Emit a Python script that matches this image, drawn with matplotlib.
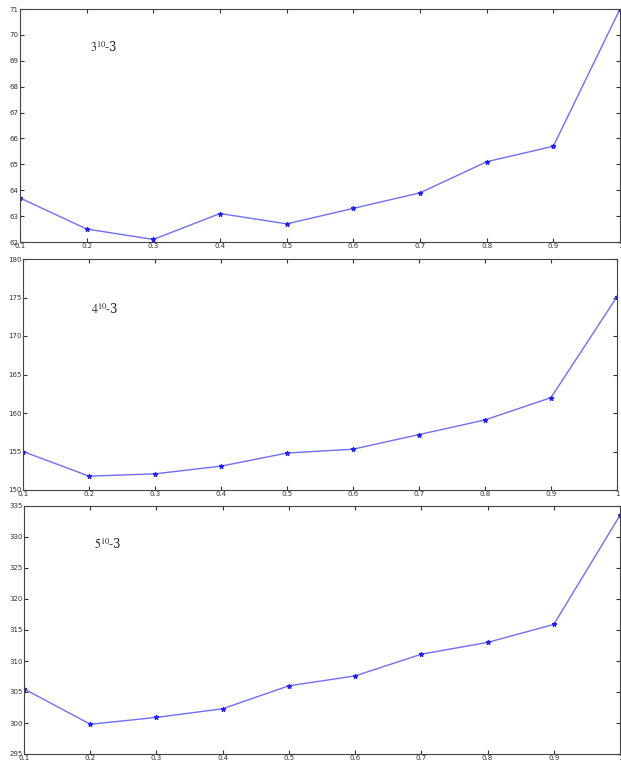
# -*-coding:utf-8-*-
import matplotlib
matplotlib.use('Agg')
import matplotlib.pyplot as plt
import numpy as np

x = [0.1, 0.2, 0.3, 0.4, 0.5, 0.6, 0.7, 0.8, 0.9, 1.0]
y3 = [63.7, 62.5, 62.1, 63.1, 62.7, 63.3, 63.9, 65.1, 65.7, 71.0]
y4 = [155.0, 151.8, 152.1, 153.1, 154.8, 155.3, 157.2, 159.1, 162.0, 175.1]
y5 = [305.5, 299.8, 300.9, 302.3, 306.0, 307.6, 311.1, 313.0, 315.9, 333.5]
labels = ['$3^{10}$-3', '$4^{10}$-3', '$5^{10}$-3']
ylims = [(62, 71), (150, 180), (295, 335)]
ysteps = [1, 5, 5]

W, H = 621, 766
# pixel boxes of the panels: left, right, top, bottom
boxes = [(20, 620, 9, 242), (23, 617, 259, 490), (24, 620, 506, 754)]
text_pos = [(90, 48), (91, 310), (94, 545)]

fig = plt.figure(figsize=(W / 100, H / 100), dpi=100)
plt.rcParams['mathtext.fontset'] = 'stix'

for ys, lab, lim, st, box, tp in zip([y3, y4, y5], labels, ylims, ysteps, boxes, text_pos):
    l, r, t, b = box
    ax = fig.add_axes([l / W, 1 - b / H, (r - l) / W, (b - t) / H])
    ax.plot(x, ys, '-', color='#6f6fff', lw=1.0)
    ax.plot(x, ys, '*', color='#2020ff', ms=3.5, mew=0.8)
    ax.set_xlim(0.1, 1.0)
    ax.set_ylim(*lim)
    ax.set_xticks(x)
    ax.set_xticklabels(['0.1', '0.2', '0.3', '0.4', '0.5', '0.6', '0.7', '0.8', '0.9', '1'])
    ax.set_yticks(np.arange(lim[0], lim[1] + 0.1, st))
    ax.tick_params(direction='in', length=3, width=0.8, color='#333333',
                   labelsize=5, labelcolor='#333333', pad=1,
                   top=True, right=True)
    for s in ax.spines.values():
        s.set_color('#444444')
        s.set_linewidth(0.8)
    ax.text((tp[0] - l) / (r - l), (b - tp[1]) / (b - t), lab, transform=ax.transAxes,
            fontsize=8.5, family='serif', ha='left', va='center', color='#222222')
    ax.patch.set_alpha(0)

plt.savefig('out.png', dpi=100)
